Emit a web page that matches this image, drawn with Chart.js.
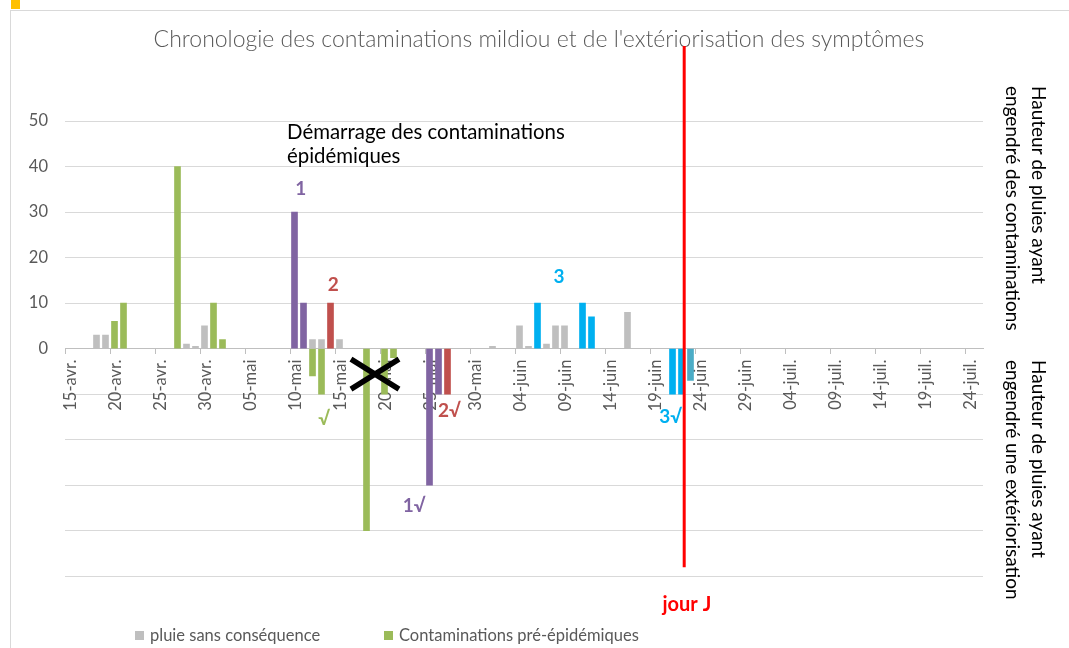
<!DOCTYPE html>
<html lang="fr">
<head>
<meta charset="utf-8">
<title>Chronologie mildiou</title>
<script src="https://cdn.jsdelivr.net/npm/chart.js@4.4.1/dist/chart.umd.min.js"></script>
<style>
  html, body { margin: 0; padding: 0; background: #fff; }
  #chart { display: block; }
</style>
</head>
<body>
<canvas id="chart" width="1069" height="648"></canvas>
<script>
// Jours comptés depuis le 15 avril (0 = 15-avr.), hauteurs de pluie en mm
const tickLabels = ['15-avr.', '20-avr.', '25-avr.', '30-avr.', '05-mai', '10-mai', '15-mai', '20-mai',
  '25-mai', '30-mai', '04-juin', '09-juin', '14-juin', '19-juin', '24-juin', '29-juin',
  '04-juil.', '09-juil.', '14-juil.', '19-juil.', '24-juil.'];
const nbJours = 102;

const pluieJours = [3, 4, 13, 14, 15, 27, 28, 30, 47, 50, 51, 53, 54, 55, 62];
const pluieMm = [3, 3, 1, 0.5, 5, 2, 2, 2, 0.5, 5, 0.5, 1, 5, 5, 8];

const preEpiJours = [5, 6, 12, 16, 17];
const preEpiMm = [6, 10, 40, 10, 2];
const preEpiExtJours = [27, 28, 33, 35, 36];
const preEpiExtMm = [-6, -10, -40, -10, -2];

const contam1Jours = [25, 26];
const contam1Mm = [30, 10];
const ext1Jours = [40, 41];
const ext1Mm = [-30, -10];

const contam2Jours = [29];
const contam2Mm = [10];
const ext2Jours = [42];
const ext2Mm = [-10];

const contam3Jours = [52, 57, 58];
const contam3Mm = [10, 10, 7];
const ext3Jours = [67, 68];
const ext3Mm = [-10, -10];
const ext4Jours = [69];
const ext4Mm = [-7];

// jour J : position sur l'axe des jours et étendue verticale du trait
const jourJ = 68.8;
const jourJHaut = 66.5;
const jourJBas = -48;

const titre = "Chronologie des contaminations mildiou et de l'extériorisation des symptômes";
const FONT = 'Lato, "Open Sans", sans-serif';

const toPoints = (jours, mm) => jours.map((j, i) => ({ x: j + 0.5, y: mm[i] }));

const barDataset = (label, jours, mm, color) => ({
  type: 'bar',
  label,
  data: toPoints(jours, mm),
  backgroundColor: color,
  barThickness: 6,
  grouped: false,
});

const datasets = [
  barDataset('pluie sans conséquence', pluieJours, pluieMm, '#BFBFBF'),
  barDataset('Contaminations pré-épidémiques', preEpiJours, preEpiMm, '#9BBB59'),
  barDataset('Extériorisation pré-épidémique', preEpiExtJours, preEpiExtMm, '#9BBB59'),
  barDataset('Contamination 1', contam1Jours, contam1Mm, '#8064A2'),
  barDataset('Extériorisation 1', ext1Jours, ext1Mm, '#8064A2'),
  barDataset('Contamination 2', contam2Jours, contam2Mm, '#C0504D'),
  barDataset('Extériorisation 2', ext2Jours, ext2Mm, '#C0504D'),
  barDataset('Contamination 3', contam3Jours, contam3Mm, '#00B0F0'),
  barDataset('Extériorisation 3', ext3Jours, ext3Mm, '#00B0F0'),
  barDataset('Extériorisation 4', ext4Jours, ext4Mm, '#4BACC6'),
  {
    type: 'line',
    label: 'jour J',
    data: [{ x: jourJ, y: jourJHaut }, { x: jourJ, y: jourJBas }],
    borderColor: '#FF0000',
    borderWidth: 3,
    pointRadius: 0,
    clip: false,
    order: -1,
  },
];

// textes posés sur le graphique, ancrés en unités (jour, mm)
const annotations = [
  { text: '1', x: 26.2, y: 35.2, color: '#8064A2' },
  { text: '2', x: 29.8, y: 14.0, color: '#C0504D' },
  { text: '3', x: 54.9, y: 15.7, color: '#00B0F0' },
  { text: '√', x: 28.8, y: -15.4, color: '#9BBB59' },
  { text: '1√', x: 38.8, y: -34.6, color: '#8064A2' },
  { text: '2√', x: 42.7, y: -13.7, color: '#C0504D' },
  { text: '3√', x: 67.3, y: -15.0, color: '#00B0F0' },
];

const legendItems = [
  { text: 'pluie sans conséquence', color: '#BFBFBF', x: 135 },
  { text: 'Contaminations pré-épidémiques', color: '#9BBB59', x: 384 },
];

const drawVertical = (ctx, lines, x, y) => {
  ctx.save();
  ctx.translate(x, y);
  ctx.rotate(Math.PI / 2);
  ctx.textAlign = 'left';
  ctx.textBaseline = 'alphabetic';
  lines.forEach((line, i) => ctx.fillText(line, 0, i * 26));
  ctx.restore();
};

const decor = {
  id: 'decor',
  beforeDraw(chart) {
    const { ctx, width, height } = chart;
    ctx.save();
    ctx.fillStyle = '#fff';
    ctx.fillRect(0, 0, width, height);
    ctx.strokeStyle = '#D9D9D9';
    ctx.lineWidth = 1;
    ctx.strokeRect(10.5, 10.5, width, height);
    ctx.fillStyle = '#FFC000';
    ctx.fillRect(11, 0, 9, 9);

    ctx.font = `300 23px ${FONT}`;
    ctx.fillStyle = '#595959';
    ctx.textAlign = 'center';
    ctx.textBaseline = 'middle';
    ctx.fillText(titre, 539, 40);
    ctx.restore();
  },
  afterDraw(chart) {
    const { ctx } = chart;
    const xs = chart.scales.x;
    const ys = chart.scales.y;
    ctx.save();

    // démarrage des contaminations épidémiques
    ctx.font = `20.4px ${FONT}`;
    ctx.fillStyle = '#000';
    ctx.textAlign = 'left';
    ctx.textBaseline = 'middle';
    const dx = xs.getPixelForValue(24.67);
    const dy = ys.getPixelForValue(47.4);
    ctx.fillText('Démarrage des contaminations', dx, dy);
    ctx.fillText('épidémiques', dx, dy + 24);

    // chiffres des contaminations
    ctx.font = `bold 19px ${FONT}`;
    ctx.textAlign = 'center';
    annotations.forEach(a => {
      ctx.fillStyle = a.color;
      ctx.fillText(a.text, xs.getPixelForValue(a.x), ys.getPixelForValue(a.y));
    });

    // croix noire
    const cx = xs.getPixelForValue(34.44);
    const cy = ys.getPixelForValue(-5.6);
    ctx.strokeStyle = '#000';
    ctx.lineWidth = 5.5;
    ctx.beginPath();
    ctx.moveTo(cx - 24, cy - 15);
    ctx.lineTo(cx + 24, cy + 15);
    ctx.moveTo(cx - 24, cy + 15);
    ctx.lineTo(cx + 24, cy - 15);
    ctx.stroke();

    // jour J
    ctx.font = `bold 20px ${FONT}`;
    ctx.fillStyle = '#FF0000';
    ctx.fillText('jour J', xs.getPixelForValue(69.1), ys.getPixelForValue(-56.1));

    // titres verticaux à droite
    ctx.font = `19px ${FONT}`;
    ctx.fillStyle = '#000';
    drawVertical(ctx, ['Hauteur de pluies ayant', 'engendré des contaminations'], 1031.5, 86);
    drawVertical(ctx, ['Hauteur de pluies ayant', 'engendré une extériorisation'], 1031.5, 360);

    // légende
    ctx.font = `16.5px ${FONT}`;
    ctx.textAlign = 'left';
    ctx.textBaseline = 'middle';
    legendItems.forEach(item => {
      ctx.fillStyle = item.color;
      ctx.fillRect(item.x, 631, 9, 9);
      ctx.fillStyle = '#595959';
      ctx.fillText(item.text, item.x + 15, 636);
    });
    ctx.restore();
  },
};

new Chart(document.getElementById('chart'), {
  type: 'bar',
  data: { datasets },
  options: {
    responsive: false,
    animation: false,
    devicePixelRatio: 1,
    layout: { padding: { top: 121, left: 10, right: 86, bottom: 71.7 } },
    plugins: {
      legend: { display: false },
      title: { display: false },
      tooltip: { enabled: false },
    },
    scales: {
      x: {
        type: 'linear',
        position: { y: 0 },
        min: 0,
        max: nbJours,
        offset: false,
        afterBuildTicks: (s) => { s.ticks = tickLabels.map((_, i) => ({ value: i * 5 })); },
        afterFit: (s) => { s.height = 0; },
        ticks: {
          autoSkip: false,
          maxRotation: 90,
          minRotation: 90,
          labelOffset: 6,
          padding: 6,
          color: '#595959',
          font: { family: FONT, size: 16.5 },
          callback: (value, index) => tickLabels[index],
        },
        grid: {
          offset: false,
          drawOnChartArea: false,
          drawTicks: true,
          tickLength: 5,
          color: '#BFBFBF',
        },
        border: { display: true, color: '#BFBFBF' },
      },
      y: {
        min: -50,
        max: 50,
        afterFit: (s) => { s.width = 55; },
        ticks: {
          stepSize: 10,
          padding: 17,
          color: '#595959',
          font: { family: FONT, size: 16.5 },
          callback: (value) => (value >= 0 ? value : ''),
        },
        grid: { color: '#D9D9D9', drawTicks: false },
        border: { display: false },
      },
    },
  },
  plugins: [decor],
});
</script>
</body>
</html>
